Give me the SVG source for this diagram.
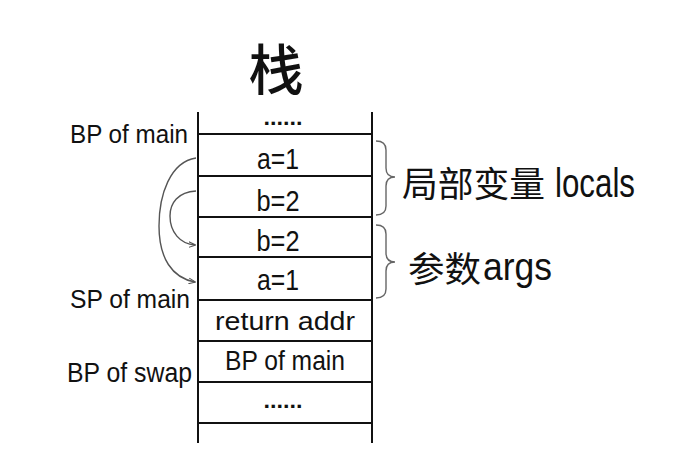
<svg xmlns="http://www.w3.org/2000/svg" width="689" height="464" viewBox="0 0 689 464">
<defs>
<style>
.t{font-family:"Liberation Sans","DejaVu Sans",sans-serif;fill:#111}
.c{font-family:"Noto Sans CJK SC",sans-serif;fill:#111}
.ln{stroke:#111;stroke-width:2;fill:none}
.cv{stroke:#555;stroke-width:1.4;fill:none}
.br{stroke:#666;stroke-width:1.4;fill:none}
</style>
<marker id="ah" viewBox="0 0 10 10" refX="9" refY="5" markerWidth="7" markerHeight="7" orient="auto" markerUnits="userSpaceOnUse">
<path d="M0,1 L10,5 L0,9" fill="none" stroke="#555" stroke-width="1.5"/>
</marker>
</defs>
<rect width="689" height="464" fill="#fff"/>
<g id="title"><text class="c" x="276" y="90" font-size="55" font-weight="500" text-anchor="middle">栈</text></g>
<g id="stack">
<line class="ln" x1="198" y1="112" x2="198" y2="443"/>
<line class="ln" x1="372" y1="112" x2="372" y2="443"/>
<line class="ln" x1="198" y1="134" x2="372" y2="134"/>
<line class="ln" x1="198" y1="176" x2="372" y2="176"/>
<line class="ln" x1="198" y1="217" x2="372" y2="217"/>
<line class="ln" x1="198" y1="257" x2="372" y2="257"/>
<line class="ln" x1="198" y1="300" x2="372" y2="300"/>
<line class="ln" x1="198" y1="341" x2="372" y2="341"/>
<line class="ln" x1="198" y1="382" x2="372" y2="382"/>
<line class="ln" x1="198" y1="423" x2="372" y2="423"/>
</g>
<g id="cell-dots-top"><text class="t" x="283" y="125" font-size="22" font-weight="bold" text-anchor="middle" textLength="39" lengthAdjust="spacingAndGlyphs">......</text></g>
<g id="cell-a1"><text class="t" x="278" y="169" font-size="30" text-anchor="middle" textLength="42" lengthAdjust="spacingAndGlyphs">a=1</text></g>
<g id="cell-b2"><text class="t" x="278" y="211" font-size="30" text-anchor="middle" textLength="43" lengthAdjust="spacingAndGlyphs">b=2</text></g>
<g id="cell-b2-arg"><text class="t" x="278" y="251" font-size="30" text-anchor="middle" textLength="43" lengthAdjust="spacingAndGlyphs">b=2</text></g>
<g id="cell-a1-arg"><text class="t" x="278" y="290" font-size="30" text-anchor="middle" textLength="42" lengthAdjust="spacingAndGlyphs">a=1</text></g>
<g id="cell-ret"><text class="t" x="285" y="330" font-size="26" text-anchor="middle" textLength="140" lengthAdjust="spacingAndGlyphs">return addr</text></g>
<g id="cell-bp"><text class="t" x="285" y="370" font-size="27" text-anchor="middle" textLength="120" lengthAdjust="spacingAndGlyphs">BP of main</text></g>
<g id="cell-dots-bot"><text class="t" x="283" y="408" font-size="22" font-weight="bold" text-anchor="middle" textLength="39" lengthAdjust="spacingAndGlyphs">......</text></g>
<g id="lbl-bp-main"><text class="t" x="70" y="143" font-size="26" textLength="118" lengthAdjust="spacingAndGlyphs">BP of main</text></g>
<g id="lbl-sp-main"><text class="t" x="70" y="308" font-size="26" textLength="120" lengthAdjust="spacingAndGlyphs">SP of main</text></g>
<g id="lbl-bp-swap"><text class="t" x="67" y="382" font-size="27" textLength="125" lengthAdjust="spacingAndGlyphs">BP of swap</text></g>
<g id="locals">
<path class="br" d="M376,141 Q386,141 386,150 L386,168 Q386,177 395,177 Q386,177 386,186 L386,206 Q386,215 376,215"/>
<text class="c" x="402" y="197" font-size="35" textLength="143" lengthAdjust="spacingAndGlyphs">局部变量</text>
<text class="t" x="555" y="197" font-size="40" textLength="80" lengthAdjust="spacingAndGlyphs">locals</text>
</g>
<g id="args">
<path class="br" d="M376,225 Q386,225 386,234 L386,253 Q386,262 395,262 Q386,262 386,271 L386,289 Q386,298 376,298"/>
<text class="c" x="408" y="282" font-size="35" textLength="73" lengthAdjust="spacingAndGlyphs">参数</text>
<text class="t" x="483" y="280" font-size="38" textLength="69" lengthAdjust="spacingAndGlyphs">args</text>
</g>
<g id="connectors">
<path class="cv" marker-end="url(#ah)" d="M196,158 C170,162 159,195 159,226 C159,258 172,278 195,282"/>
<path class="cv" marker-end="url(#ah)" d="M196,191 C178,192 170,203 170,216 C170,232 180,244 195,245"/>
</g>
</svg>
